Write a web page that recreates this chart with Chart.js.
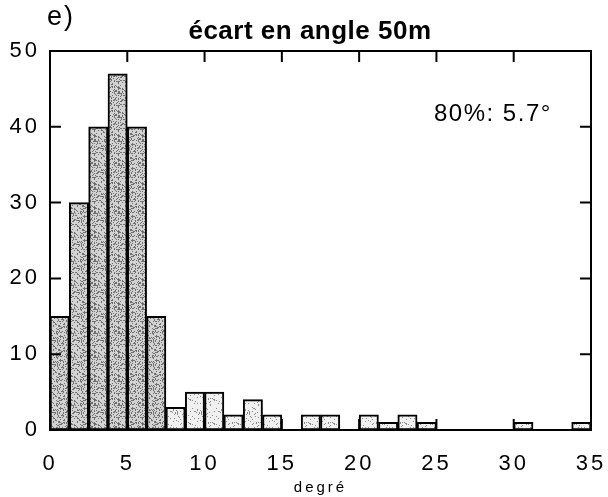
<!DOCTYPE html>
<html>
<head>
<meta charset="utf-8">
<script src="https://cdn.jsdelivr.net/npm/chart.js@4"></script>
<style>
  body { margin: 0; background: #fff; }
</style>
</head>
<body>
<canvas id="chart" width="608" height="497"></canvas>
<script>
// histogram bins of 1.25 degree, 0 -> 35
const binWidth = 1.25;
const counts = [15, 30, 40, 47, 40, 15, 3, 5, 5, 2, 4, 2, 0, 2, 2, 0, 2, 1, 2, 1, 0, 0, 0, 0, 1, 0, 0, 1];
const xTicks = [0, 5, 10, 15, 20, 25, 30, 35];
const yTicks = [0, 10, 20, 30, 40, 50];
const titleText = 'écart en angle 50m';
const panelText = 'e)';
const noteText = '80%: 5.7°';
const xTitle = 'degré';

const FONT = "'Liberation Sans', Arial, sans-serif";

// stippled grey fill like the scanned figure
function stipple(bg, dot, density) {
  const c = document.createElement('canvas');
  c.width = 24; c.height = 24;
  const g = c.getContext('2d');
  g.fillStyle = bg;
  g.fillRect(0, 0, 24, 24);
  g.fillStyle = dot;
  for (let i = 0; i < 24; i++) {
    for (let j = 0; j < 24; j++) {
      const h = ((i * 73856093) ^ (j * 19349663) ^ (i * j * 83492791)) >>> 0;
      if (h % 100 < density) g.fillRect(i, j, 1, 1);
    }
  }
  return g.createPattern(c, 'repeat');
}
const dense = stipple('#d2d2d2', '#707070', 28);
const sparse = stipple('#f0f0f0', '#8a8a8a', 10);

const frame = {
  id: 'frame',
  beforeDraw(chart) {
    chart.ctx.letterSpacing = '3px';
  },
  afterDraw(chart) {
    const { ctx, chartArea: a, scales: { x, y } } = chart;
    ctx.save();
    ctx.strokeStyle = '#000';
    ctx.lineWidth = 2;
    ctx.strokeRect(a.left, a.top, a.right - a.left, a.bottom - a.top);
    ctx.beginPath();
    xTicks.slice(1, -1).forEach(v => {
      const px = x.getPixelForValue(v);
      ctx.moveTo(px, a.top); ctx.lineTo(px, a.top + 11);
      ctx.moveTo(px, a.bottom); ctx.lineTo(px, a.bottom - 11);
    });
    yTicks.slice(1, -1).forEach(v => {
      const py = y.getPixelForValue(v);
      ctx.moveTo(a.left, py); ctx.lineTo(a.left + 11, py);
      ctx.moveTo(a.right, py); ctx.lineTo(a.right - 11, py);
    });
    ctx.stroke();

    ctx.fillStyle = '#000';
    ctx.textBaseline = 'middle';
    ctx.textAlign = 'center';
    ctx.letterSpacing = '0.5px';
    ctx.font = 'bold 26px ' + FONT;
    ctx.fillText(titleText, 310, 32);

    ctx.textAlign = 'left';
    ctx.letterSpacing = '2px';
    ctx.font = '27px ' + FONT;
    ctx.fillText(panelText, 47, 18);

    ctx.letterSpacing = '1.5px';
    ctx.font = '24px ' + FONT;
    ctx.fillText(noteText, 434, 114);
    ctx.restore();
  }
};

new Chart(document.getElementById('chart'), {
  type: 'bar',
  data: {
    datasets: [{
      data: counts.map((v, i) => ({ x: (i + 0.5) * binWidth, y: v })),
      backgroundColor: ctx => (ctx.dataIndex < 6 ? dense : sparse),
      borderColor: '#000',
      borderWidth: 2,
      borderSkipped: false,
      barPercentage: 1,
      categoryPercentage: 1
    }]
  },
  options: {
    responsive: false,
    animation: false,
    layout: { padding: { top: 51, right: 17, left: 0, bottom: 0 } },
    plugins: { legend: { display: false }, tooltip: { enabled: false } },
    scales: {
      x: {
        type: 'linear',
        min: 0,
        max: 35,
        offset: false,
        grid: { display: false, offset: false },
        border: { display: false },
        afterBuildTicks: s => { s.ticks = xTicks.map(v => ({ value: v })); },
        afterFit: s => { s.height = 67; s.paddingLeft = 0; s.paddingRight = 0; },
        ticks: { color: '#000', padding: 13, maxRotation: 0, font: { family: FONT, size: 22 } },
        title: { display: true, text: xTitle, color: '#000', padding: 0, font: { family: FONT, size: 15 } }
      },
      y: {
        min: 0,
        max: 50,
        grid: { display: false },
        border: { display: false },
        afterBuildTicks: s => { s.ticks = yTicks.map(v => ({ value: v })); },
        afterFit: s => { s.width = 50; },
        ticks: { color: '#000', padding: 2, font: { family: FONT, size: 22 } }
      }
    }
  },
  plugins: [frame]
});
</script>
</body>
</html>
